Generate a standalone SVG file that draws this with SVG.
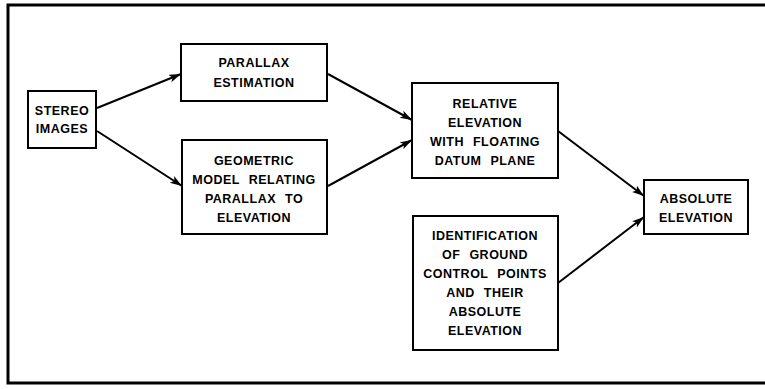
<svg xmlns="http://www.w3.org/2000/svg" width="765" height="389" viewBox="0 0 765 389">
<style>
.box{fill:#fff;stroke:#000;stroke-width:2}
.t{font-family:"Liberation Sans",Arial,sans-serif;font-weight:bold;font-size:12.5px;letter-spacing:0.5px;word-spacing:5px;text-anchor:middle;fill:#000}
.c{stroke:#000;stroke-width:2;fill:none;marker-end:url(#ah)}
</style>
<defs>
<marker id="ah" markerUnits="userSpaceOnUse" markerWidth="14" markerHeight="10" refX="12" refY="4" orient="auto">
<path d="M0,0 L12,4 L0,8 L3,4 Z" fill="#000"/>
</marker>
</defs>
<rect width="765" height="389" fill="#fff"/>
<path d="M765,5 L8,5 L8,383 L765,383" fill="none" stroke="#000" stroke-width="3"/>
<g id="connectors">
<line class="c" x1="97" y1="108" x2="181" y2="74"/>
<line class="c" x1="97" y1="131" x2="182" y2="186"/>
<line class="c" x1="328" y1="74" x2="412" y2="120"/>
<line class="c" x1="328" y1="186" x2="412" y2="140"/>
<line class="c" x1="558" y1="131" x2="644" y2="196"/>
<line class="c" x1="558" y1="283" x2="644" y2="217"/>
</g>
<g id="stereo">
<rect class="box" x="28" y="91" width="68" height="57"/>
<text class="t" x="62" y="115">STEREO</text>
<text class="t" x="62" y="133">IMAGES</text>
</g>
<g id="parallax">
<rect class="box" x="181" y="44" width="146" height="57"/>
<text class="t" x="254" y="67">PARALLAX</text>
<text class="t" x="254" y="87">ESTIMATION</text>
</g>
<g id="geometric">
<rect class="box" x="182" y="140" width="145" height="94"/>
<text class="t" x="254" y="165">GEOMETRIC</text>
<text class="t" x="254" y="184">MODEL RELATING</text>
<text class="t" x="254" y="203">PARALLAX TO</text>
<text class="t" x="254" y="222">ELEVATION</text>
</g>
<g id="relative">
<rect class="box" x="412" y="83" width="146" height="95"/>
<text class="t" x="485" y="108">RELATIVE</text>
<text class="t" x="485" y="127">ELEVATION</text>
<text class="t" x="485" y="146">WITH FLOATING</text>
<text class="t" x="485" y="165">DATUM PLANE</text>
</g>
<g id="absolute">
<rect class="box" x="644" y="180" width="104" height="54"/>
<text class="t" x="696" y="203">ABSOLUTE</text>
<text class="t" x="696" y="222">ELEVATION</text>
</g>
<g id="identification">
<rect class="box" x="413" y="216" width="145" height="134"/>
<text class="t" x="485" y="240">IDENTIFICATION</text>
<text class="t" x="485" y="259">OF GROUND</text>
<text class="t" x="485" y="278">CONTROL POINTS</text>
<text class="t" x="485" y="297">AND THEIR</text>
<text class="t" x="485" y="316">ABSOLUTE</text>
<text class="t" x="485" y="335">ELEVATION</text>
</g>
</svg>
